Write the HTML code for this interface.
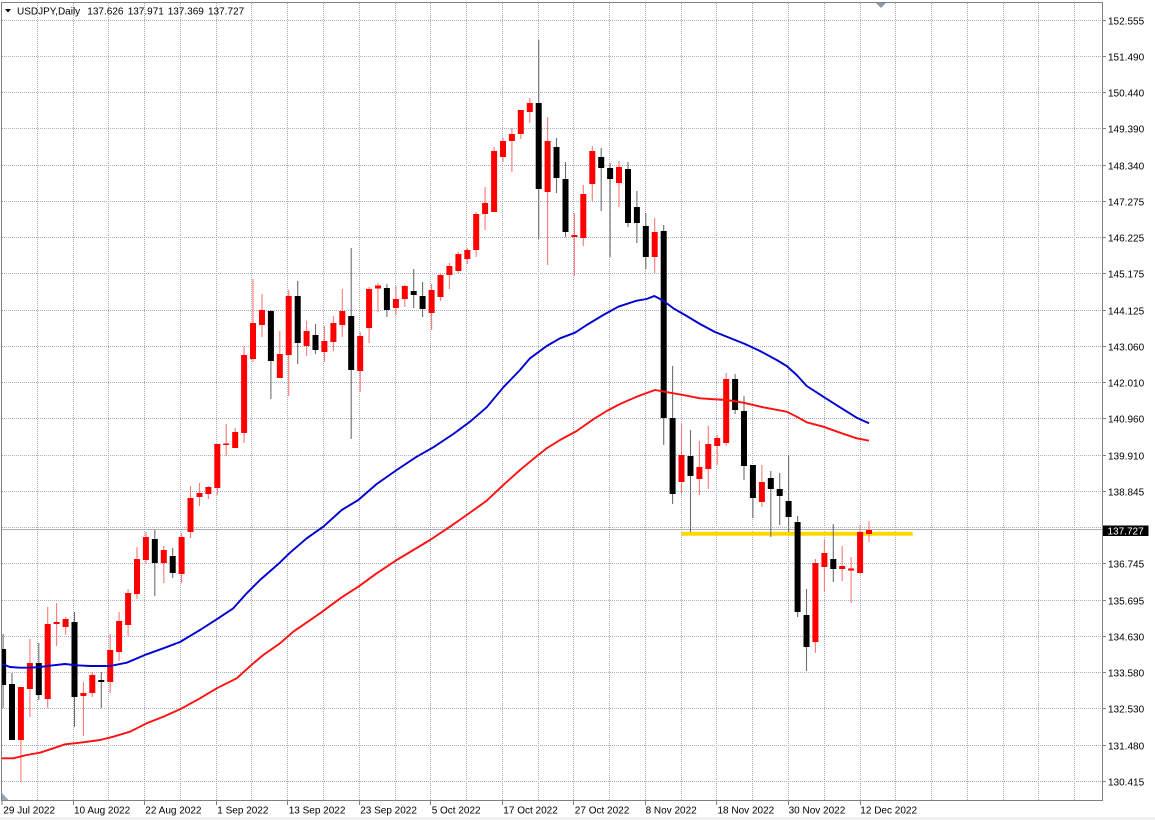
<!DOCTYPE html>
<html><head><meta charset="utf-8"><style>
html,body{margin:0;padding:0;background:#fff;width:1155px;height:820px;overflow:hidden}
svg{display:block}
text{font-family:"Liberation Sans",Arial,sans-serif;font-size:10px;fill:#000}
</style></head><body>
<svg width="1155" height="820" viewBox="0 0 1155 820" xmlns="http://www.w3.org/2000/svg">
<defs><clipPath id="pc"><rect x="2" y="2.5" width="1100.5" height="798"/></clipPath></defs>
<rect x="0" y="0" width="1155" height="820" fill="#fff"/>
<rect x="0" y="817" width="1155" height="3" fill="#f0f0f0"/>
<g stroke="#a4adb9" stroke-width="1" stroke-dasharray="1 1" fill="none">
<path d="M2 20.5H1102M2 56.5H1102M2 92.5H1102M2 128.5H1102M2 165.5H1102M2 201.5H1102M2 237.5H1102M2 273.5H1102M2 310.5H1102M2 346.5H1102M2 382.5H1102M2 418.5H1102M2 455.5H1102M2 491.5H1102M2 527.5H1102M2 563.5H1102M2 600.5H1102M2 636.5H1102M2 672.5H1102M2 708.5H1102M2 745.5H1102M2 781.5H1102"/>
<path d="M37.5 3V800M73.5 3V800M108.5 3V800M144.5 3V800M180.5 3V800M216.5 3V800M251.5 3V800M287.5 3V800M323.5 3V800M359.5 3V800M395.5 3V800M430.5 3V800M466.5 3V800M502.5 3V800M538.5 3V800M573.5 3V800M609.5 3V800M645.5 3V800M681.5 3V800M716.5 3V800M752.5 3V800M788.5 3V800M824.5 3V800M860.5 3V800M895.5 3V800M931.5 3V800M967.5 3V800M1003.5 3V800M1038.5 3V800M1074.5 3V800"/>
</g>
<line x1="2" y1="529.5" x2="1102" y2="529.5" stroke="#a8b0b8" stroke-width="1"/>
<line x1="681.5" y1="533.7" x2="912.7" y2="533.7" stroke="#ffd700" stroke-width="4"/>
<g clip-path="url(#pc)">
<path fill="none" stroke="#ff7878" stroke-width="1.1" d="M20.9 687V782M29.9 639V717M47.7 607V708M56.6 603V646M65.6 617V635M83.4 682V736M92.3 672V697M110.2 634V693M119.1 612V661M128.1 589V636M137 547V599M145.9 532V564M163.8 546V583M181.6 533V583M190.5 486V538M199.5 483V506M208.4 486V499M217.3 444V495M226.2 424V456M235.2 428V448M244.1 346V443M253 279V362M262 294V337M279.8 331V378M288.7 290V396M306.6 321V356M324.4 326V362M333.4 316V351M342.3 289V337M360.2 332V392M369.1 287V343M378 283V312M395.9 286V315M404.8 285V307M431.6 284V330M440.5 274V301M449.4 263V289M458.4 252V273M467.3 248V264M476.2 212V257M485.1 187V230M494.1 147V212M503 138V162M511.9 128V172M520.8 110V139M529.8 98V123M547.6 117V265M574.4 213V276M583.3 185V246M592.3 146V201M619 161V207M654.7 218V273M681.5 424V493M699.4 441V495M708.3 426V489M717.2 435V465M726.2 373V446M761.9 465V507M815.4 559V653M824.4 540V591M842.2 546V581M851.1 557V603M860.1 525V573M869 521V542"/>
<path fill="none" stroke="#6e6e6e" stroke-width="1.1" d="M3.1 634V708M12 673V740M38.8 643V700M74.5 612V727M101.3 672V708M154.8 530V596M172.7 548V578M270.9 310V399M297.7 281V364M315.5 324V354M351.2 248V439M386.9 284V317M413.7 269V308M422.6 282V317M538.7 40V239M556.5 138V193M565.5 162V237M601.2 148V211M610.1 163V257M628 162V227M636.9 191V243M645.8 213V269M663.7 225V445M672.6 366V504M690.5 430V532M735.1 374V414M744 396V480M752.9 465V518M770.8 471V537M779.7 473V525M788.6 455V532M797.6 516V617M806.5 589V671M833.3 524V582"/>
<path fill="#ff0000" d="M17.9 687h6V740h-6ZM26.9 663h6V689h-6ZM44.7 624h6V699h-6ZM53.6 622h6V624h-6ZM62.6 619h6V627h-6ZM80.4 693h6V696h-6ZM89.3 675h6V693h-6ZM107.2 650h6V682h-6ZM116.1 621h6V652h-6ZM125.1 593h6V625h-6ZM134 559h6V594h-6ZM142.9 537h6V560h-6ZM160.8 550h6V563h-6ZM178.6 537h6V574h-6ZM187.5 498h6V532h-6ZM196.5 493h6V497h-6ZM205.4 487h6V494h-6ZM214.3 444h6V488h-6ZM223.2 443.5h6V445h-6ZM232.2 432h6V448h-6ZM241.1 355h6V433h-6ZM250 323h6V359h-6ZM259 310h6V325h-6ZM276.8 354h6V378h-6ZM285.7 296h6V355h-6ZM303.6 331h6V346h-6ZM321.4 341h6V352h-6ZM330.4 323h6V342h-6ZM339.3 311h6V325h-6ZM357.2 336h6V371h-6ZM366.1 289h6V328h-6ZM375 285.5h6V288.5h-6ZM392.9 299h6V308h-6ZM401.8 286h6V299h-6ZM428.6 290h6V313h-6ZM437.5 275h6V297h-6ZM446.4 266h6V275h-6ZM455.4 254h6V271h-6ZM464.3 250h6V259h-6ZM473.2 214h6V250h-6ZM482.1 203h6V214h-6ZM491.1 151h6V212h-6ZM500 141h6V157h-6ZM508.9 134h6V141h-6ZM517.8 110h6V134h-6ZM526.8 103h6V112h-6ZM544.6 141h6V192h-6ZM571.4 235h6V237h-6ZM580.3 194h6V238h-6ZM589.3 151h6V184h-6ZM616 167h6V183h-6ZM651.7 232h6V257h-6ZM678.5 455h6V482h-6ZM696.4 467h6V479h-6ZM705.3 444h6V469h-6ZM714.2 438h6V446h-6ZM723.2 379h6V443h-6ZM758.9 482h6V502h-6ZM812.4 563h6V642h-6ZM821.4 553h6V567h-6ZM839.2 566h6V569h-6ZM848.1 568.5h6V570.5h-6ZM857.1 532h6V573h-6ZM866 530h6V534h-6Z"/>
<path fill="#000" d="M0.1 649h6V685h-6ZM9 684h6V740h-6ZM35.8 663h6V695h-6ZM71.5 622h6V697h-6ZM98.3 680h6V682h-6ZM151.8 539h6V563h-6ZM169.7 556h6V573h-6ZM267.9 311h6V361h-6ZM294.7 296h6V343h-6ZM312.5 335h6V350h-6ZM348.2 316h6V370h-6ZM383.9 288h6V310h-6ZM410.7 291h6V295h-6ZM419.6 296h6V309h-6ZM535.7 103h6V189h-6ZM553.5 147h6V178h-6ZM562.5 179h6V232h-6ZM598.2 157h6V168h-6ZM607.1 168h6V179h-6ZM625 169h6V223h-6ZM633.9 207h6V223h-6ZM642.8 226h6V257h-6ZM660.7 231h6V418h-6ZM669.6 418h6V494h-6ZM687.5 456h6V476h-6ZM732.1 379h6V410h-6ZM741 411h6V466h-6ZM749.9 465h6V498h-6ZM767.8 478h6V489h-6ZM776.7 489h6V496h-6ZM785.6 501h6V517h-6ZM794.6 522h6V612h-6ZM803.5 615h6V647h-6ZM830.3 559h6V569h-6Z"/>
<polyline fill="none" stroke="#ff1010" stroke-width="1.9" stroke-linejoin="round" points="2,758.3 13.3,758.3 26.7,755 40,752.7 53.3,748.3 65,744.3 80,742.7 100,740 113.3,736.7 130,731.7 146.7,723.3 163.3,716.7 180,709.3 200,698.3 216.7,688.3 236.7,678.3 253.3,663.3 263.3,655 280,643.3 293.3,631.7 320,613.3 341.7,597.3 358.3,586.7 376.7,573.3 396.7,560 430,540 450,526.7 466.7,515 486.7,500.7 503.3,485 520,470 530,461.7 546.7,448.3 560,440 576.7,431 593.3,419.3 606.7,411 620,404 636.7,396.7 655,390 670,392.7 686.7,395.7 700,398.3 710,399 726.7,400 743.3,402.7 763.3,407.3 786.7,411.7 796.7,416.7 806.7,422.3 823.3,426.7 840,432.7 856.7,438.3 869,440.7"/>
<polyline fill="none" stroke="#0000d0" stroke-width="1.9" stroke-linejoin="round" points="2,664 10,667 20,667.7 30,667.7 40,667 50,665.7 65,664 76.7,665.3 90,666 110,666 126.7,662.7 146.7,654.3 163.3,648.3 180,642 200,630 216.7,619.3 233.3,608.3 246.7,593.3 260,580 278.3,564 290,552.7 306.7,538.3 323.3,526.7 341.7,510 358.3,500 376.7,484 396.7,470 416.7,456.7 433.3,447.3 453.3,434 470,421.7 486.7,407.3 503.3,387.3 520,370 530,358.3 546.7,346 560,338.3 575,332.7 586.7,325 603.3,315 618.3,306.7 636.7,300.7 646.7,299 654.3,296 663.3,300.7 673.3,308.3 686.7,316 700,324 715,332 730,338 745,344 760,351 776.7,360 786.7,366 796.7,375 806.7,386 823.3,396.7 840,407.3 856.7,417.7 869,423.3"/>
</g>
<polygon points="875,2 887,2 881,8" fill="#8a9ab0"/>
<polygon points="2,793 2,800.5 9,800.5" fill="#98a4b4"/>
<rect x="1.5" y="2.5" width="1101" height="798" fill="none" stroke="#808080" stroke-width="1"/>
<g stroke="#808080" stroke-width="1">
<path d="M1103 20.5h3M1103 56.5h3M1103 92.5h3M1103 128.5h3M1103 165.5h3M1103 201.5h3M1103 237.5h3M1103 273.5h3M1103 310.5h3M1103 346.5h3M1103 382.5h3M1103 418.5h3M1103 455.5h3M1103 491.5h3M1103 563.5h3M1103 600.5h3M1103 636.5h3M1103 672.5h3M1103 708.5h3M1103 745.5h3M1103 781.5h3"/>
<path d="M2 801v4M73.5 801v4M144.5 801v4M216.5 801v4M287.5 801v4M359.5 801v4M430.5 801v4M502.5 801v4M573.5 801v4M645.5 801v4M716.5 801v4M788.5 801v4M860.5 801v4"/>
</g>
<polygon points="5,9 11,9 8,12.5" fill="#000"/>
<text x="17" y="14.5">USDJPY,Daily</text>
<text x="87.3" y="14.5">137.626</text>
<text x="127.7" y="14.5">137.971</text>
<text x="167.7" y="14.5">137.369</text>
<text x="208" y="14.5">137.727</text>
<g>
<text x="1108" y="24.5">152.555</text>
<text x="1108" y="60.5">151.490</text>
<text x="1108" y="96.5">150.440</text>
<text x="1108" y="132.5">149.390</text>
<text x="1108" y="169.5">148.340</text>
<text x="1108" y="205.5">147.275</text>
<text x="1108" y="241.5">146.225</text>
<text x="1108" y="277.5">145.175</text>
<text x="1108" y="314.5">144.125</text>
<text x="1108" y="350.5">143.060</text>
<text x="1108" y="386.5">142.010</text>
<text x="1108" y="422.5">140.960</text>
<text x="1108" y="459.5">139.910</text>
<text x="1108" y="495.5">138.845</text>
<text x="1108" y="567.5">136.745</text>
<text x="1108" y="604.5">135.695</text>
<text x="1108" y="640.5">134.630</text>
<text x="1108" y="676.5">133.580</text>
<text x="1108" y="712.5">132.530</text>
<text x="1108" y="749.5">131.480</text>
<text x="1108" y="785.5">130.415</text>
</g>
<rect x="1103" y="525.5" width="45.5" height="10.5" fill="#000"/>
<text x="1107.5" y="534.3" style="fill:#fff">137.727</text>
<g>
<text x="3.3" y="813.3">29 Jul 2022</text>
<text x="74" y="813.3">10 Aug 2022</text>
<text x="145.3" y="813.3">22 Aug 2022</text>
<text x="217.3" y="813.3">1 Sep 2022</text>
<text x="288.7" y="813.3">13 Sep 2022</text>
<text x="360.2" y="813.3">23 Sep 2022</text>
<text x="431.7" y="813.3">5 Oct 2022</text>
<text x="503.3" y="813.3">17 Oct 2022</text>
<text x="574.8" y="813.3">27 Oct 2022</text>
<text x="645.6" y="813.3">8 Nov 2022</text>
<text x="717.5" y="813.3">18 Nov 2022</text>
<text x="788.6" y="813.3">30 Nov 2022</text>
<text x="860.3" y="813.3">12 Dec 2022</text>
</g>
</svg>
</body></html>
